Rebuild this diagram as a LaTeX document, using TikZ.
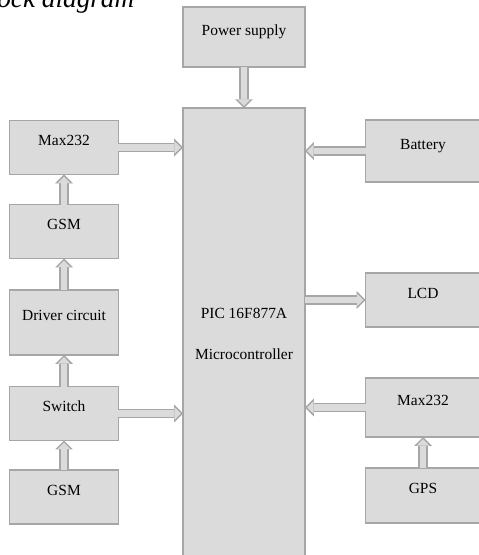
\documentclass[tikz,border=0pt]{standalone}
\usepackage{fontspec}
\setmainfont{Liberation Serif}
\usetikzlibrary{positioning,arrows.meta,calc}

\begin{document}
\begin{tikzpicture}[
  x=0.02cm, y=-0.02cm,
  font=\fontsize{8.8}{10}\selectfont,
  blk/.style={draw=gray!70, line width=1pt, fill=black!14, align=center,
              inner sep=0pt, outer sep=0pt, text height=6pt, text depth=8pt},
  lblk/.style={blk, minimum width=2.18cm, minimum height=1.08cm},
  rblk/.style={blk, minimum width=2.3cm, minimum height=1.08cm},
  arr/.style={draw=gray!70, line width=5.4pt,
              -{Triangle[length=5pt, width=10pt, line width=0pt]},
              postaction={draw=black!14, line width=3.6pt, shorten >=1.2pt,
                          -{Triangle[length=3.7pt, width=7.2pt, line width=0pt]}}},
]
\useasboundingbox (0,0) rectangle (478,555);

% clipped caption at the top
\begin{scope}
\clip (0,0) rectangle (478,555);
\node[anchor=base west, inner sep=0pt, font=\fontsize{15.5}{16}\selectfont\itshape]
  (title) at (-3,7) {ock diagram};
\end{scope}

% centre column
\node[blk, minimum width=2.44cm, minimum height=1.2cm] (ps) at (244,37) {Power supply};
\node[blk, minimum width=2.44cm, minimum height=9.04cm, text height=, text depth=]
  (pic) at (244,334) {PIC 16F877A\\[13pt]Microcontroller};

% left column
\node[lblk] (maxl) at (64,147.5) {Max232};
\node[lblk] (gsma) at (64,231.5) {GSM};
\node[lblk, minimum height=1.3cm] (drv) at (64,322.5) {Driver circuit};
\node[lblk] (sw)   at (64,413.5) {Switch};
\node[lblk] (gsmb) at (64,497)   {GSM};

% right column
\node[rblk, minimum height=1.24cm] (bat) at (423,151) {Battery};
\node[rblk] (lcd)  at (423,300)   {LCD};
\node[rblk, minimum height=1.18cm] (maxr) at (423,407.5) {Max232};
\node[rblk, minimum height=1.1cm] (gps)  at (423,495.5) {GPS};

\draw[arr] (ps) -- (pic);
\draw[arr] (maxl.east) -- (maxl.east -| pic.west);
\draw[arr] (sw.east) -- (sw.east -| pic.west);
\draw[arr] (gsma.north) -- (gsma.north |- maxl.south);
\draw[arr] (drv.north) -- (drv.north |- gsma.south);
\draw[arr] (sw.north) -- (sw.north |- drv.south);
\draw[arr] (gsmb.north) -- (gsmb.north |- sw.south);
\draw[arr] (bat.west) -- (bat.west -| pic.east);
\draw[arr] (pic.east |- lcd.west) -- (lcd.west);
\draw[arr] (maxr.west) -- (maxr.west -| pic.east);
\draw[arr] (gps.north) -- (gps.north |- maxr.south);
\end{tikzpicture}
\end{document}
